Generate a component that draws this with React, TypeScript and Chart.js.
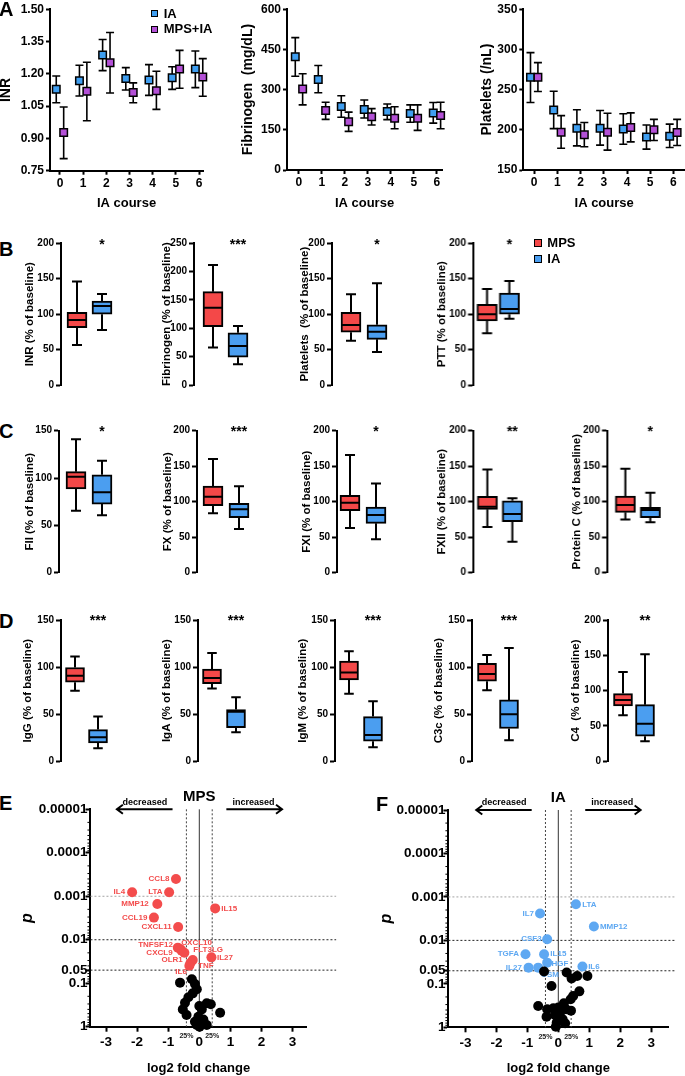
import React, { useEffect, useRef } from 'react';
import { Chart, registerables } from 'chart.js';

Chart.register(...registerables);

if (typeof document !== 'undefined') {
  document.body.style.margin = '0';
}

const FONT = '"Liberation Sans", Arial, Helvetica, sans-serif';
const BLACK = '#000000';
const IA_BLUE = '#3f9ef0';
const MPSIA_PURPLE = '#b350d6';
const BOX_RED = '#f44848';
const BOX_BLUE = '#4b9ef0';
const VOLC_RED = '#f34c4c';
const VOLC_BLUE = '#5ea8f2';

// ---------------- Panel A (mean, lower, upper) ----------------
const courseTicks = [0, 1, 2, 3, 4, 5, 6];

const inrIA = [1.128, 1.168, 1.288, 1.178, 1.172, 1.182, 1.223];
const inrIALo = [1.066, 1.097, 1.215, 1.125, 1.1, 1.128, 1.136];
const inrIAHi = [1.19, 1.24, 1.36, 1.229, 1.243, 1.233, 1.306];
const inrMPS = [0.927, 1.119, 1.252, 1.113, 1.122, 1.223, 1.185];
const inrMPSLo = [0.806, 0.982, 1.111, 1.066, 1.035, 1.133, 1.096];
const inrMPSHi = [1.046, 1.254, 1.392, 1.158, 1.212, 1.309, 1.271];
const inrTicks = [0.75, 0.9, 1.05, 1.2, 1.35, 1.5];

const fibIA = [423, 338, 237, 226, 218, 211, 213];
const fibIALo = [350, 288, 197, 194, 188, 178, 175];
const fibIAHi = [494, 390, 277, 261, 246, 243, 252];
const fibMPS = [302, 222, 180, 199, 193, 193, 203];
const fibMPSLo = [243, 189, 144, 168, 154, 148, 154];
const fibMPSHi = [359, 253, 216, 229, 236, 243, 253];
const fibTicks = [0, 150, 300, 450, 600];

const pltIA = [265.5, 224.6, 202, 202, 201, 191, 192];
const pltIALo = [234, 201.5, 180, 181, 182, 176, 178];
const pltIAHi = [296, 248, 225, 224, 220, 206, 207];
const pltMPS = [265.5, 197, 193.7, 197, 202.8, 200, 196.6];
const pltMPSLo = [247.7, 177, 179, 174.7, 185, 186.7, 180.5];
const pltMPSHi = [283.6, 217.6, 209, 220.5, 221, 213, 213];
const pltTicks = [150, 200, 250, 300, 350];

// ---------------- Panels B-D: [whisker min, Q1, median, Q3, whisker max] ----------------
const inrPctMPS = [56.5, 81, 91.8, 102.6, 146];
const inrPctIA = [77.6, 99.8, 111.5, 118.6, 128.5];
const fibPctMPS = [66, 103, 136.5, 164.7, 211.8];
const fibPctIA = [36.5, 49, 69, 92, 104];
const pltPctMPS = [62.6, 74.4, 84.7, 102.6, 128];
const pltPctIA = [46.6, 64.5, 75.3, 85, 143.5];
const pttPctMPS = [72.9, 90.4, 99.8, 113.9, 135.5];
const pttPctIA = [93.6, 99.8, 107.3, 129.9, 146.8];

const f2PctMPS = [65.5, 88.4, 101.4, 106.7, 141];
const f2PctIA = [60.6, 72.5, 84.9, 103.5, 118.3];
const f10PctMPS = [83.6, 94.4, 107, 122, 160];
const f10PctIA = [61.5, 77.5, 89.2, 97.7, 121.6];
const f11PctMPS = [62.9, 87.3, 98.6, 109, 165.7];
const f11PctIA = [47, 69.5, 81.2, 92.5, 125.8];
const f12PctMPS = [64.3, 89.2, 93, 107.5, 145.5];
const f12PctIA = [43.7, 71.8, 82.6, 101.4, 104.7];
const protCPctMPS = [75, 85, 95.3, 108, 146.5];
const protCPctIA = [70.9, 77.5, 88.3, 92, 112.7];

const iggPctMPS = [74.8, 84, 90.8, 99.6, 111.3];
const iggPctIA = [13.8, 19.5, 25.5, 33.7, 47.5];
const igaPctMPS = [77.3, 82.3, 88.3, 98, 115];
const igaPctIA = [30.9, 35.8, 52.5, 55, 68];
const igmPctMPS = [71.6, 86.5, 94.3, 106.4, 116.7];
const igmPctIA = [14.9, 21.3, 28, 47.5, 63.8];
const c3cPctMPS = [75.5, 85, 92.6, 103.9, 112.8];
const c3cPctIA = [22.3, 34.8, 50, 65.2, 120.2];
const c4PctMPS = [65.1, 78.3, 86.8, 95.8, 126.4];
const c4PctIA = [28.3, 35.4, 53.3, 80.2, 151.4];

const ticks150 = [0, 50, 100, 150];
const ticks200 = [0, 50, 100, 150, 200];
const ticks250 = [0, 50, 100, 150, 200, 250];

// ---------------- Panels E/F (volcano) ----------------
const volcYTicks = [0.00001, 0.0001, 0.001, 0.01, 0.05, 0.1, 1];
const volcYLabels = ['0.00001', '0.0001', '0.001', '0.01', '0.05', '0.1', '1'];
const volcXTicks = [-3, -2, -1, 0, 1, 2, 3];
const volcPLines = [0.001, 0.01, 0.05];
const foldCut = 0.415;

const mpsSigNames = ['CCL8', 'IL4', 'LTA', 'MMP12', 'IL15', 'CCL19', 'CXCL11', 'TNFSF12', 'CXCL10', 'CXCL9', 'FLT3LG', 'OLR1', 'IL27', 'TNF', 'IL6'];
const mpsSigFC = [-0.75, -2.16, -0.97, -1.35, 0.51, -1.46, -0.68, -0.69, -0.6, -0.57, -0.48, -0.21, 0.39, -0.28, -0.32];
const mpsSigP = [0.0004, 0.00081, 0.00081, 0.0015, 0.0019, 0.0031, 0.0051, 0.0152, 0.0165, 0.018, 0.02, 0.0292, 0.0254, 0.0337, 0.0395];
const mpsLabelAlign = ['right', 'right', 'right', 'right', 'left', 'right', 'right', 'right', 'left', 'right', 'left', 'right', 'left', 'left', 'right'];
const mpsLabelDx = [-6.5, -7, -6.5, -8.5, 6, -6.5, -6.5, -5, 0.7, -9, 9, -10, 5.5, 7.4, -2.5];
const mpsLabelDy = [0, 0, 0, 0, 0, 0, 0, -3.3, -6.5, 2, -2.7, 0.3, 0, 3.6, 6.3];
const mpsNsFC = [-0.62, -0.24, -0.14, -0.08, -0.21, -0.35, -0.46, 0.24, 0, -0.53, 0.08, 0.37, 0.67, -0.41, -0.03, 0.13, -0.08, 0.24, 0.01, -0.14];
const mpsNsP = [0.097, 0.081, 0.104, 0.138, 0.171, 0.211, 0.28, 0.29, 0.334, 0.4, 0.4, 0.306, 0.476, 0.54, 0.59, 0.68, 0.91, 0.91, 1.0, 0.77];

const iaSigNames = ['LTA', 'IL7', 'MMP12', 'CSF3', 'TGFA', 'IL15', 'HGF', 'IL27', 'OSM', 'IL6'];
const iaSigFC = [0.57, -0.59, 1.15, -0.36, -1.06, -0.46, -0.36, -0.96, -0.65, 0.78];
const iaSigP = [0.00148, 0.0024, 0.0048, 0.0094, 0.0209, 0.0209, 0.0325, 0.0424, 0.0424, 0.04];
const iaLabelAlign = ['left', 'right', 'left', 'right', 'right', 'left', 'left', 'right', 'center', 'left'];
const iaLabelDx = [6.3, -6, 6, -5.5, -6.5, 6.3, 4.3, -6.7, 11.7, 5.7];
const iaLabelDy = [0, 0, 0, 0, 0, 0, 0.7, 0, 7.3, 0];
const iaNsFC = [-0.46, 0.27, 0.43, 0.61, 0.94, -0.22, 0.48, 0.68, 0.4, 0.18, -0.65, -0.36, -0.16, 0.0, 0.25, 0.41, -0.38, -0.11, 0.14, -0.05, 0.22, -0.08, 0.05];
const iaNsP = [0.052, 0.055, 0.075, 0.066, 0.066, 0.112, 0.19, 0.149, 0.227, 0.28, 0.323, 0.385, 0.366, 0.35, 0.385, 0.414, 0.57, 0.52, 0.65, 0.78, 0.81, 0.97, 0.48];

// ---------------- helpers ----------------
type Frame = { left: number; top: number; width: number; height: number; x0: number; x1: number; y0: number; y1: number };

function axisCfg(o: any) {
  return {
    type: o.type || 'linear',
    position: o.horizontal ? 'bottom' : 'left',
    min: o.min,
    max: o.max,
    reverse: !!o.reverse,
    offset: false,
    border: { display: true, color: BLACK, width: 2 },
    grid: { display: true, drawOnChartArea: false, drawTicks: true, tickLength: o.tickLen, tickColor: BLACK, tickWidth: 2 },
    ticks: {
      color: BLACK,
      autoSkip: false,
      maxRotation: 0,
      padding: o.tickPad,
      font: { family: FONT, size: o.fontSize, weight: 'bold' },
      callback: o.fmt,
    },
    afterBuildTicks: (sc: any) => {
      sc.ticks = o.ticks.map((v: number) => ({ value: v }));
    },
    afterFit: o.horizontal
      ? (sc: any) => { sc.height = o.f.top + o.f.height - o.f.y1; }
      : (sc: any) => { sc.width = o.f.x0 - o.f.left; },
    title: {
      display: !!o.title,
      text: o.title,
      color: BLACK,
      font: { family: FONT, size: o.titleSize, weight: 'bold', style: o.italic ? 'italic' : 'normal' },
      padding: o.horizontal ? { top: 0, bottom: o.titlePad } : { top: o.titlePad, bottom: 0 },
    },
  };
}

function ChartCanvas({ frame, make }: { frame: Frame; make: () => any }) {
  const ref = useRef<HTMLCanvasElement | null>(null);
  useEffect(() => {
    if (!ref.current) return;
    const chart = new Chart(ref.current, make());
    return () => chart.destroy();
  }, []);
  return (
    <canvas
      ref={ref}
      width={frame.width}
      height={frame.height}
      style={{ position: 'absolute', left: frame.left, top: frame.top, width: frame.width, height: frame.height }}
    />
  );
}

// ---------------- Panel A builder ----------------
const DODGE = 0.16;

function makeA(s: any) {
  const f: Frame = s.f;
  const iaPts = courseTicks.map((c, i) => ({ x: c - DODGE, y: s.ia[i] }));
  const mpsPts = courseTicks.map((c, i) => ({ x: c + DODGE, y: s.mps[i] }));
  const errPlugin = {
    id: 'errbars',
    beforeDatasetsDraw(chart: any) {
      const { ctx } = chart;
      const x = chart.scales.x;
      const y = chart.scales.y;
      ctx.save();
      ctx.strokeStyle = BLACK;
      ctx.lineWidth = 1.6;
      const draw = (pts: any[], lo: number[], hi: number[]) => {
        pts.forEach((pt, i) => {
          const px = x.getPixelForValue(pt.x);
          const a = y.getPixelForValue(lo[i]);
          const b = y.getPixelForValue(hi[i]);
          ctx.beginPath();
          ctx.moveTo(px, a); ctx.lineTo(px, b);
          ctx.moveTo(px - 4, a); ctx.lineTo(px + 4, a);
          ctx.moveTo(px - 4, b); ctx.lineTo(px + 4, b);
          ctx.stroke();
        });
      };
      draw(iaPts, s.iaLo, s.iaHi);
      draw(mpsPts, s.mpsLo, s.mpsHi);
      ctx.restore();
    },
  };
  const marker = (color: string) => ({
    pointStyle: 'rect', pointRadius: 5.3, pointHoverRadius: 5.3,
    backgroundColor: color, borderColor: BLACK, borderWidth: 1.5, showLine: false, clip: false,
  });
  return {
    type: 'scatter',
    data: {
      datasets: [
        { label: 'MPS+IA', data: mpsPts, ...marker(MPSIA_PURPLE) },
        { label: 'IA', data: iaPts, ...marker(IA_BLUE) },
      ],
    },
    options: {
      animation: false, responsive: false, events: [],
      layout: { autoPadding: false, padding: { left: 0, top: f.y0 - f.top, right: f.left + f.width - f.x1, bottom: 0 } },
      plugins: { legend: { display: false }, tooltip: { enabled: false } },
      scales: {
        x: axisCfg({ f, horizontal: true, min: s.xMin, max: s.xMax, ticks: courseTicks, fmt: (v: number) => String(v), tickLen: 4, tickPad: 1.4, fontSize: 12, title: 'IA course', titleSize: 13, titlePad: s.xTitlePad }),
        y: axisCfg({ f, min: s.yTicks[0], max: s.yTicks[s.yTicks.length - 1], ticks: s.yTicks, fmt: (v: number) => v.toFixed(s.dec), tickLen: 4, tickPad: 2, fontSize: 12, title: s.title, titleSize: 14, titlePad: s.titlePad }),
      },
    },
    plugins: [errPlugin],
  };
}

// ---------------- Box builder ----------------
function makeBox(s: any) {
  const f: Frame = s.f;
  const unit = s.blue - s.red;
  const xMin = -(s.red - f.x0) / unit;
  const xMax = (f.x1 - s.red) / unit;
  const plugin = {
    id: 'whiskers',
    afterDatasetsDraw(chart: any) {
      const { ctx } = chart;
      const meta = chart.getDatasetMeta(0);
      const y = chart.scales.y;
      [s.mps, s.ia].forEach((v: number[], i: number) => {
        const bar = meta.data[i];
        const cx = bar.x;
        const w = bar.width;
        const py = (val: number) => y.getPixelForValue(val);
        ctx.save();
        ctx.strokeStyle = BLACK;
        ctx.lineWidth = 2;
        ctx.beginPath();
        ctx.moveTo(cx, py(v[3])); ctx.lineTo(cx, py(v[4]));
        ctx.moveTo(cx - w / 4, py(v[4])); ctx.lineTo(cx + w / 4, py(v[4]));
        ctx.moveTo(cx, py(v[1])); ctx.lineTo(cx, py(v[0]));
        ctx.moveTo(cx - w / 4, py(v[0])); ctx.lineTo(cx + w / 4, py(v[0]));
        ctx.moveTo(cx - w / 2 + 1, py(v[2])); ctx.lineTo(cx + w / 2 - 1, py(v[2]));
        ctx.stroke();
        ctx.restore();
      });
      const iaBar = meta.data[1];
      ctx.save();
      ctx.font = `bold 14px ${FONT}`;
      ctx.textAlign = 'center';
      ctx.textBaseline = 'middle';
      ctx.fillStyle = BLACK;
      ctx.fillText(s.stars, iaBar.x, chart.chartArea.top + 1.5);
      ctx.restore();
    },
  };
  return {
    type: 'bar',
    data: {
      datasets: [{
        data: [{ x: 0, y: [s.mps[1], s.mps[3]] }, { x: 1, y: [s.ia[1], s.ia[3]] }],
        backgroundColor: [BOX_RED, BOX_BLUE],
        borderColor: BLACK,
        borderWidth: 2,
        borderSkipped: false,
        barThickness: s.barW,
        clip: false,
      }],
    },
    options: {
      animation: false, responsive: false, events: [],
      layout: { autoPadding: false, padding: { left: 0, top: f.y0 - f.top, right: f.left + f.width - f.x1, bottom: f.top + f.height - f.y1 } },
      plugins: { legend: { display: false }, tooltip: { enabled: false } },
      scales: {
        x: { type: 'linear', display: false, min: xMin, max: xMax, offset: false },
        y: axisCfg({ f, min: 0, max: s.ticks[s.ticks.length - 1], ticks: s.ticks, fmt: (v: number) => String(v), tickLen: 5, tickPad: 2, fontSize: 10, title: s.title, titleSize: 11.5, titlePad: s.titlePad }),
      },
    },
    plugins: [plugin],
  };
}

// ---------------- Volcano builder ----------------
function fmtP(v: number) {
  const i = volcYTicks.findIndex((t) => Math.abs(Math.log10(t) - Math.log10(v)) < 1e-6);
  return i >= 0 ? volcYLabels[i] : '';
}

function drawArrow(ctx: any, xFrom: number, xTo: number, y: number) {
  const d = Math.sign(xTo - xFrom);
  ctx.beginPath();
  ctx.moveTo(xFrom, y); ctx.lineTo(xTo, y);
  ctx.moveTo(xTo - d * 6, y - 4.5); ctx.lineTo(xTo, y); ctx.lineTo(xTo - d * 6, y + 4.5);
  ctx.stroke();
}

function makeVolcano(s: any) {
  const f: Frame = s.f;
  const sigPts = s.sigX.map((x: number, i: number) => ({ x, y: s.sigP[i] }));
  const nsPts = s.nsX.map((x: number, i: number) => ({ x, y: s.nsP[i] }));
  const plugin = {
    id: 'volc',
    beforeDatasetsDraw(chart: any) {
      const { ctx, chartArea: ca } = chart;
      const x = chart.scales.x;
      const y = chart.scales.y;
      ctx.save();
      ctx.lineWidth = 1;
      ctx.setLineDash([2, 2]);
      volcPLines.forEach((pv, i) => {
        const py = y.getPixelForValue(pv);
        ctx.strokeStyle = i === 0 ? '#a3a3a3' : '#222222';
        ctx.beginPath(); ctx.moveTo(ca.left, py); ctx.lineTo(x.getPixelForValue(s.hEnd), py); ctx.stroke();
      });
      ctx.strokeStyle = '#444444';
      [-foldCut, foldCut].forEach((v) => {
        const px = x.getPixelForValue(v);
        ctx.beginPath(); ctx.moveTo(px, ca.top); ctx.lineTo(px, ca.bottom); ctx.stroke();
      });
      ctx.setLineDash([]);
      ctx.strokeStyle = '#333333';
      const z = x.getPixelForValue(0);
      ctx.beginPath(); ctx.moveTo(z, ca.top); ctx.lineTo(z, ca.bottom); ctx.stroke();
      ctx.restore();
    },
    afterDatasetDraw(chart: any, args: any) {
      if (args.index !== 1) return;
      const { ctx } = chart;
      const x = chart.scales.x;
      const y = chart.scales.y;
      ctx.save();
      ctx.font = `bold 8px ${FONT}`;
      ctx.fillStyle = s.color;
      ctx.textBaseline = 'middle';
      s.names.forEach((n: string, i: number) => {
        ctx.textAlign = s.align[i];
        ctx.fillText(n, x.getPixelForValue(s.sigX[i]) + s.dx[i], y.getPixelForValue(s.sigP[i]) + s.dy[i]);
      });
      ctx.restore();
    },
    afterDraw(chart: any) {
      const { ctx, chartArea: ca } = chart;
      const x = chart.scales.x;
      const y = chart.scales.y;
      ctx.save();
      // minor ticks on the p axis
      ctx.strokeStyle = BLACK;
      ctx.lineWidth = 1;
      for (let e = -5; e < 0; e++) {
        for (let m = 2; m <= 9; m++) {
          const v = m * Math.pow(10, e);
          const py = y.getPixelForValue(v);
          ctx.beginPath(); ctx.moveTo(ca.left - 3, py); ctx.lineTo(ca.left, py); ctx.stroke();
        }
      }
      ctx.fillStyle = BLACK;
      ctx.textAlign = 'center';
      ctx.textBaseline = 'middle';
      ctx.font = `bold 15px ${FONT}`;
      ctx.fillText(s.name, x.getPixelForValue(0), ca.top - 12);
      ctx.font = `bold 9px ${FONT}`;
      ctx.fillText('decreased', x.getPixelForValue(-1.75), ca.top - 7);
      ctx.fillText('increased', x.getPixelForValue(1.74), ca.top - 7);
      ctx.lineWidth = 2;
      drawArrow(ctx, x.getPixelForValue(-0.86), x.getPixelForValue(-2.65), ca.top);
      drawArrow(ctx, x.getPixelForValue(0.87), x.getPixelForValue(2.66), ca.top);
      ctx.font = `bold 7px ${FONT}`;
      ctx.fillStyle = '#222222';
      ctx.fillText('25%', x.getPixelForValue(-foldCut), ca.bottom + 9.5);
      ctx.fillText('25%', x.getPixelForValue(foldCut), ca.bottom + 9.5);
      ctx.restore();
    },
  };
  return {
    type: 'scatter',
    data: {
      datasets: [
        { data: nsPts, backgroundColor: BLACK, borderWidth: 0, pointRadius: 5, pointHoverRadius: 5, clip: false },
        { data: sigPts, backgroundColor: s.color, borderWidth: 0, pointRadius: 5, pointHoverRadius: 5, clip: false },
      ],
    },
    options: {
      animation: false, responsive: false, events: [],
      layout: { autoPadding: false, padding: { left: 0, top: f.y0 - f.top, right: f.left + f.width - f.x1, bottom: 0 } },
      plugins: { legend: { display: false }, tooltip: { enabled: false } },
      scales: {
        x: axisCfg({ f, horizontal: true, min: s.xMin, max: s.xMax, ticks: volcXTicks, fmt: (v: number) => String(v), tickLen: 5, tickPad: 2.9, fontSize: 13.5, title: 'log2 fold change', titleSize: 13, titlePad: s.xTitlePad }),
        y: axisCfg({ f, type: 'logarithmic', reverse: true, min: 0.00001, max: 1, ticks: volcYTicks, fmt: fmtP, tickLen: 5, tickPad: -2, fontSize: 13.5, title: 'p', italic: true, titleSize: 16, titlePad: s.titlePad }),
      },
    },
    plugins: [plugin],
  };
}

// ---------------- layout specs ----------------
const aSpecs = [
  { f: { left: -4, top: 0, width: 224, height: 215, x0: 50, x1: 203, y0: 9.3, y1: 170.7 }, xMin: -0.43, xMax: 6.17, titlePad: 1.3, xTitlePad: 3.9, title: 'INR', yTicks: inrTicks, dec: 2, ia: inrIA, iaLo: inrIALo, iaHi: inrIAHi, mps: inrMPS, mpsLo: inrMPSLo, mpsHi: inrMPSHi },
  { f: { left: 238, top: 0, width: 217, height: 215, x0: 287, x1: 442, y0: 7.3, y1: 170 }, xMin: -0.52, xMax: 6.22, titlePad: 1.9, xTitlePad: 3.9, title: 'Fibrinogen  (mg/dL)', yTicks: fibTicks, dec: 0, ia: fibIA, iaLo: fibIALo, iaHi: fibIAHi, mps: fibMPS, mpsLo: fibMPSLo, mpsHi: fibMPSHi },
  { f: { left: 477, top: 0, width: 208, height: 215, x0: 523.3, x1: 685, y0: 8.3, y1: 170 }, xMin: -0.47, xMax: 6.5, titlePad: 1.3, xTitlePad: 3.9, title: 'Platelets (/nL)', yTicks: pltTicks, dec: 0, ia: pltIA, iaLo: pltIALo, iaHi: pltIAHi, mps: pltMPS, mpsLo: pltMPSLo, mpsHi: pltMPSHi },
];

function boxSpec(axisX: number, titleX: number, red: number, blue: number, rowTop: number, y0: number, y1: number, barW: number, rest: any) {
  const t = titleX - 0.6 * 11.5;
  const left = Math.floor(t - 1);
  return {
    f: { left, top: rowTop, width: axisX + 72 - left, height: 167, x0: axisX, x1: axisX + 68, y0, y1 },
    titlePad: t - left, red, blue, barW, ...rest,
  };
}

const B_TOP = 228, B_Y0 = 243.3, B_Y1 = 385;
const C_TOP = 415, C_Y0 = 430.7, C_Y1 = 572.7;
const D_TOP = 604, D_Y0 = 620, D_Y1 = 761.3;

const boxSpecs = [
  boxSpec(61, 30, 77, 102, B_TOP, B_Y0, B_Y1, 20, { title: 'INR (% of baseline)', ticks: ticks200, mps: inrPctMPS, ia: inrPctIA, stars: '*' }),
  boxSpec(194, 167, 213, 238, B_TOP, B_Y0, B_Y1, 20, { title: 'Fibrinogen (% of baseline)', ticks: ticks250, mps: fibPctMPS, ia: fibPctIA, stars: '***' }),
  boxSpec(332, 305, 351, 377, B_TOP, B_Y0, B_Y1, 20, { title: 'Platelets  (% of baseline)', ticks: ticks200, mps: pltPctMPS, ia: pltPctIA, stars: '*' }),
  boxSpec(472.7, 441.7, 486.7, 509, B_TOP, B_Y0, B_Y1, 20, { title: 'PTT (% of baseline)', ticks: ticks200, mps: pttPctMPS, ia: pttPctIA, stars: '*' }),

  boxSpec(59, 30, 76, 102, C_TOP, C_Y0, C_Y1, 20, { title: 'FII (% of baseline)', ticks: ticks150, mps: f2PctMPS, ia: f2PctIA, stars: '*' }),
  boxSpec(197, 168, 213, 239, C_TOP, C_Y0, C_Y1, 20, { title: 'FX (% of baseline)', ticks: ticks200, mps: f10PctMPS, ia: f10PctIA, stars: '***' }),
  boxSpec(337, 306.7, 350, 376, C_TOP, C_Y0, C_Y1, 20, { title: 'FXI (% of baseline)', ticks: ticks200, mps: f11PctMPS, ia: f11PctIA, stars: '*' }),
  boxSpec(472.7, 441.7, 487, 512, C_TOP, C_Y0, C_Y1, 20, { title: 'FXII (% of baseline)', ticks: ticks200, mps: f12PctMPS, ia: f12PctIA, stars: '**' }),
  boxSpec(606.7, 577.3, 625, 650, C_TOP, C_Y0, C_Y1, 20, { title: 'Protein C (% of baseline)', ticks: ticks200, mps: protCPctMPS, ia: protCPctIA, stars: '*' }),

  boxSpec(61, 28.3, 75, 98, D_TOP, D_Y0, D_Y1, 19, { title: 'IgG (% of baseline)', ticks: ticks150, mps: iggPctMPS, ia: iggPctIA, stars: '***' }),
  boxSpec(198, 166.7, 212, 236, D_TOP, D_Y0, D_Y1, 19, { title: 'IgA (% of baseline)', ticks: ticks150, mps: igaPctMPS, ia: igaPctIA, stars: '***' }),
  boxSpec(335, 303.3, 349, 373, D_TOP, D_Y0, D_Y1, 19, { title: 'IgM (% of baseline)', ticks: ticks150, mps: igmPctMPS, ia: igmPctIA, stars: '***' }),
  boxSpec(472, 439, 487, 509, D_TOP, D_Y0, D_Y1, 19, { title: 'C3c (% of baseline)', ticks: ticks150, mps: c3cPctMPS, ia: c3cPctIA, stars: '***' }),
  boxSpec(608, 576, 623, 645, D_TOP, D_Y0, D_Y1, 19, { title: 'C4  (% of baseline)', ticks: ticks200, mps: c4PctMPS, ia: c4PctIA, stars: '**' }),
];

const volcSpecs = [
  {
    f: { left: 17, top: 790, width: 330, height: 286, x0: 90.45, x1: 306.6, y0: 809.3, y1: 1026.7 },
    xMin: -3.5, xMax: 3.45, titlePad: 1.4, xTitlePad: 0.2, hEnd: 4.4, name: 'MPS', color: VOLC_RED,
    names: mpsSigNames, sigX: mpsSigFC, sigP: mpsSigP, align: mpsLabelAlign, dx: mpsLabelDx, dy: mpsLabelDy, nsX: mpsNsFC, nsP: mpsNsP,
  },
  {
    f: { left: 376, top: 790, width: 309, height: 286, x0: 448.4, x1: 668.2, y0: 810, y1: 1027.3 },
    xMin: -3.55, xMax: 3.55, titlePad: 1.4, xTitlePad: 0.2, hEnd: 3.8, name: 'IA', color: VOLC_BLUE,
    names: iaSigNames, sigX: iaSigFC, sigP: iaSigP, align: iaLabelAlign, dx: iaLabelDx, dy: iaLabelDy, nsX: iaNsFC, nsP: iaNsP,
  },
];

// ---------------- page ----------------
const letter = (left: number, top: number): React.CSSProperties => ({
  position: 'absolute', left, top, fontFamily: FONT, fontWeight: 'bold', fontSize: 20, lineHeight: '20px', color: BLACK,
});

function LegendItem({ left, cy, color, text }: { left: number; cy: number; color: string; text: string }) {
  return (
    <>
      <div style={{ position: 'absolute', left, top: cy - 3.8, width: 7.6, height: 7.6, boxSizing: 'border-box', border: '1.5px solid #000', background: color }} />
      <div style={{ position: 'absolute', left: left + 13, top: cy - 8, lineHeight: '16px', fontSize: 13, fontWeight: 'bold', fontFamily: FONT, color: BLACK, whiteSpace: 'nowrap' }}>{text}</div>
    </>
  );
}

export default function App() {
  return (
    <div style={{ position: 'relative', width: 685, height: 1076, overflow: 'hidden', background: '#ffffff', fontFamily: FONT }}>
      {aSpecs.map((s, i) => (
        <ChartCanvas key={'a' + i} frame={s.f} make={() => makeA(s)} />
      ))}
      {boxSpecs.map((s, i) => (
        <ChartCanvas key={'b' + i} frame={s.f} make={() => makeBox(s)} />
      ))}
      {volcSpecs.map((s, i) => (
        <ChartCanvas key={'v' + i} frame={s.f} make={() => makeVolcano(s)} />
      ))}

      <LegendItem left={150.7} cy={13.7} color={IA_BLUE} text="IA" />
      <LegendItem left={150.7} cy={29.3} color={MPSIA_PURPLE} text="MPS+IA" />
      <LegendItem left={534.3} cy={243} color={BOX_RED} text="MPS" />
      <LegendItem left={534.3} cy={259} color={BOX_BLUE} text="IA" />

      <div style={letter(-1, -1.5)}>A</div>
      <div style={letter(-1, 239.2)}>B</div>
      <div style={letter(-1, 420.8)}>C</div>
      <div style={letter(-1, 610.8)}>D</div>
      <div style={letter(-1, 792.5)}>E</div>
      <div style={letter(376, 794)}>F</div>
    </div>
  );
}
